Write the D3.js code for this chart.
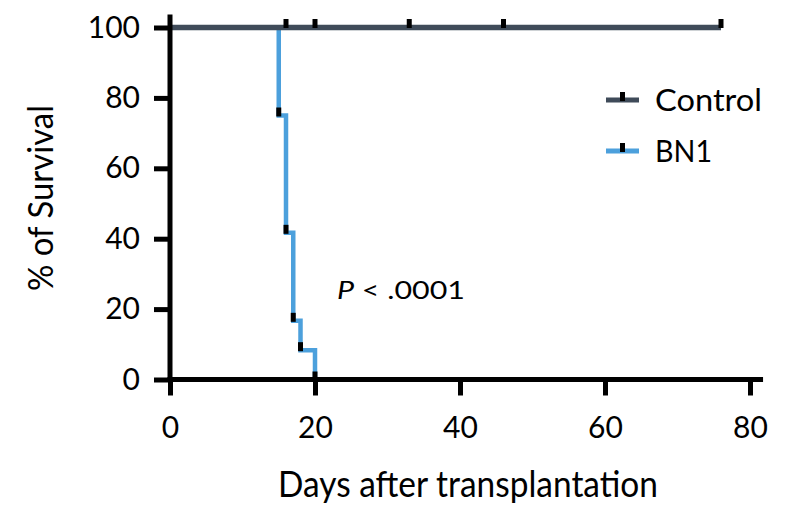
<!DOCTYPE html>
<html>
<head>
<meta charset="utf-8">
<script src="https://cdn.jsdelivr.net/npm/d3@7"></script>
<style>
  body { margin: 0; background: #fff; }
  text { font-family: Lato, "Open Sans", sans-serif; fill: #000; }
</style>
</head>
<body>
<svg id="chart"></svg>
<script>
var w = 808;
var h = 520;

// Kaplan-Meier data
var controlDays = [0, 76];
var controlSurv = [100, 100];
var controlCensor = [16, 20, 33, 46, 76];

var bn1Days = [0, 15, 16, 17, 18, 20];
var bn1Surv = [100, 75, 41.67, 16.67, 8.33, 0];

var xTicks = [0, 20, 40, 60, 80];
var yTicks = [0, 20, 40, 60, 80, 100];

var seriesNames = ["Control", "BN1"];
var colors = ["#3f4b59", "#4ca0dc"];

var svg = d3.select("#chart")
    .attr("width", w)
    .attr("height", h);

var x = d3.scaleLinear().domain([0, 80]).range([170, 750]);
var y = d3.scaleLinear().domain([0, 100]).range([379.5, 27.5]);

// step curves
function stepData(days, surv) {
    var pts = [];
    for (var i = 0; i < days.length; i++) pts.push([days[i], surv[i]]);
    return pts;
}

var line = d3.line()
    .x(function(d){ return x(d[0]); })
    .y(function(d){ return y(d[1]); })
    .curve(d3.curveStepAfter);

var bn1Pts = stepData(bn1Days, bn1Surv);
svg.append("path")
    .datum(bn1Pts)
    .attr("d", line)
    .attr("fill", "none")
    .attr("stroke", colors[1])
    .attr("stroke-width", 4.5);

svg.append("path")
    .datum(stepData(controlDays, controlSurv))
    .attr("d", line)
    .attr("fill", "none")
    .attr("stroke", colors[0])
    .attr("stroke-width", 5.5);

// tick marks on the curves
svg.selectAll(".bnMark")
    .data(bn1Pts.slice(1))
    .enter().append("rect")
    .attr("x", function(d){ return x(d[0]) - 2.5; })
    .attr("y", function(d){ return y(d[1]) - 8; })
    .attr("width", 5)
    .attr("height", 9)
    .attr("fill", "#000");

svg.selectAll(".ctlMark")
    .data(controlCensor)
    .enter().append("rect")
    .attr("x", function(d){ return x(d) - 2.5; })
    .attr("y", y(100) - 8.5)
    .attr("width", 5)
    .attr("height", 9)
    .attr("fill", "#000");

// axes
var yAxis = svg.append("g")
    .attr("transform", "translate(" + x(0) + ",0)")
    .call(d3.axisLeft(y).tickValues(yTicks).tickSize(16).tickPadding(14).tickSizeOuter(0));
yAxis.select(".domain").remove();
yAxis.append("line")
    .attr("x1", 0).attr("x2", 0)
    .attr("y1", y(0) + 2.5).attr("y2", y(103.7))
    .attr("stroke", "#000").attr("stroke-width", 5);

var xAxis = svg.append("g")
    .attr("transform", "translate(0," + y(0) + ")")
    .call(d3.axisBottom(x).tickValues(xTicks).tickSize(16).tickPadding(21).tickSizeOuter(0));
xAxis.select(".domain").remove();
xAxis.append("line")
    .attr("x1", x(0) - 2.5).attr("x2", x(81.8))
    .attr("y1", 0).attr("y2", 0)
    .attr("stroke", "#000").attr("stroke-width", 5);

svg.selectAll(".tick line").attr("stroke", "#000").attr("stroke-width", 5);
svg.selectAll(".tick text")
    .style("font-size", "30px")
    .style("font-family", "Lato, sans-serif")
    .attr("fill", "#000");

// axis titles
svg.append("text")
    .attr("x", 468)
    .attr("y", 497)
    .attr("text-anchor", "middle")
    .attr("textLength", 380)
    .attr("lengthAdjust", "spacingAndGlyphs")
    .style("font-size", "36px")
    .text("Days after transplantation");

svg.append("text")
    .attr("transform", "translate(53,198) rotate(-90)")
    .attr("text-anchor", "middle")
    .attr("textLength", 186)
    .attr("lengthAdjust", "spacingAndGlyphs")
    .style("font-size", "35px")
    .text("% of Survival");

// p value
var pText = svg.append("text")
    .attr("x", 337)
    .attr("y", 299)
    .attr("textLength", 128)
    .attr("lengthAdjust", "spacingAndGlyphs")
    .style("font-size", "25px");
pText.append("tspan").style("font-style", "italic").text("P");
pText.append("tspan").text(" < .0001");

// legend
var legY = [100, 151];
var legLen = [107, 57];
seriesNames.forEach(function(name, i){
    var g = svg.append("g");
    g.append("line")
        .attr("x1", 606).attr("x2", 639)
        .attr("y1", legY[i]).attr("y2", legY[i])
        .attr("stroke", colors[i]).attr("stroke-width", 5);
    g.append("rect")
        .attr("x", 620).attr("y", legY[i] - 8)
        .attr("width", 5).attr("height", 9)
        .attr("fill", "#000");
    g.append("text")
        .attr("x", 655)
        .attr("y", legY[i] + 11)
        .attr("textLength", legLen[i])
        .attr("lengthAdjust", "spacingAndGlyphs")
        .style("font-size", "30px")
        .text(name);
});
</script>
</body>
</html>
